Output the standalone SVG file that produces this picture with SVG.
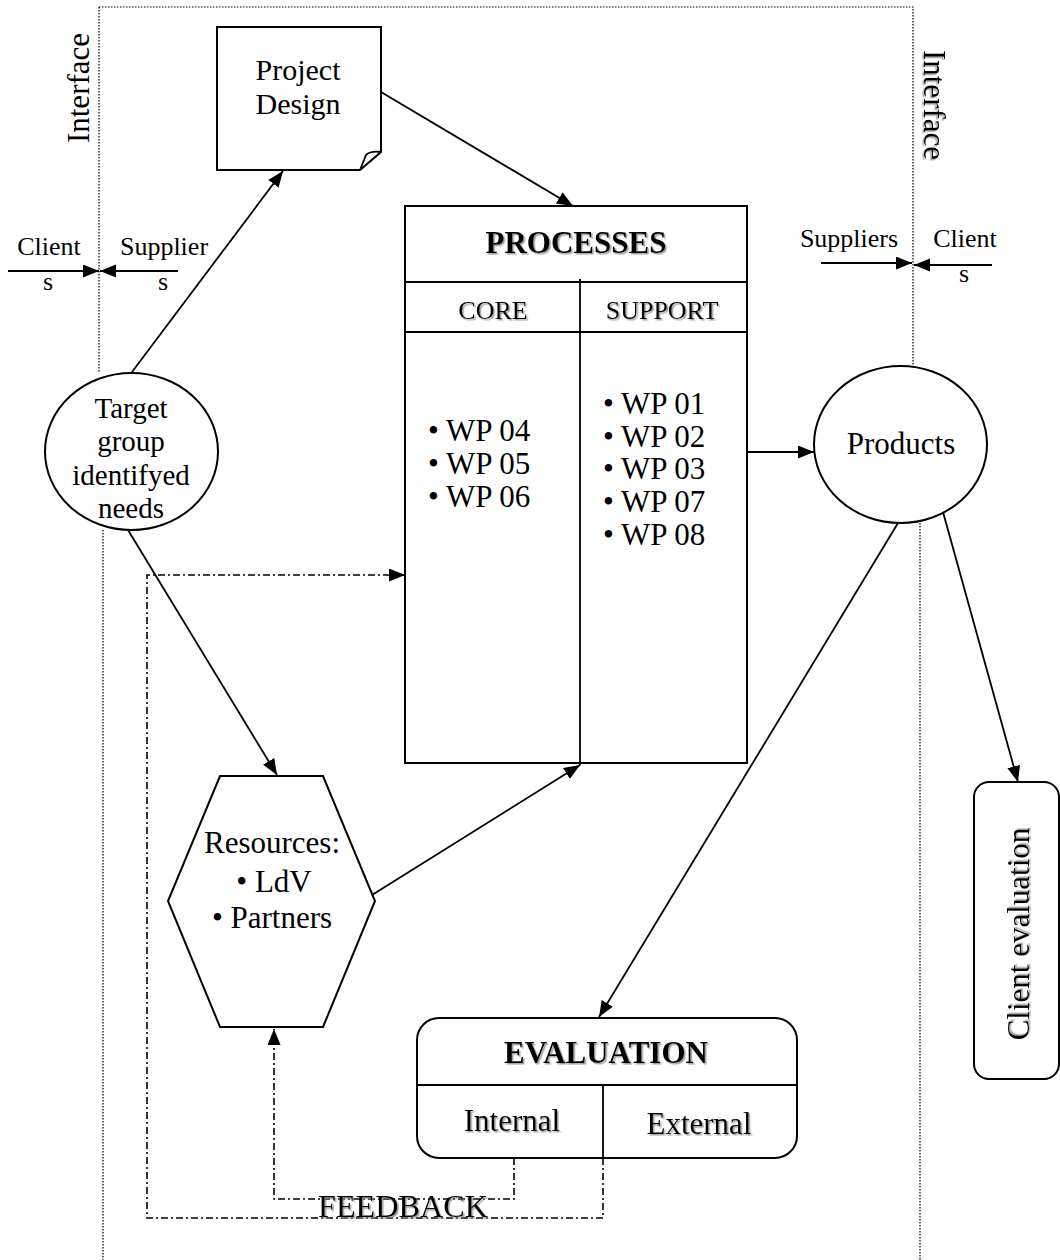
<svg xmlns="http://www.w3.org/2000/svg" width="1060" height="1260" viewBox="0 0 1060 1260">
<style>
text{font-family:"Liberation Serif","Times New Roman",serif;fill:#000}
.t26{font-size:26px}
.t29{font-size:29px}
.t30{font-size:30px}
.t31{font-size:31px}
.b31{font-size:31px;font-weight:bold}
.mid{text-anchor:middle}
.sh{filter:url(#shadow)}
.shape{fill:#fff;stroke:#000;stroke-width:2}
.line{fill:none;stroke:#000;stroke-width:1.8}
.dot{fill:none;stroke:#000;stroke-width:1.2;stroke-dasharray:1.5,1.5}
.dd{fill:none;stroke:#000;stroke-width:1.6;stroke-dasharray:7,3,2,3}
</style>
<defs>
<marker id="ah" markerUnits="userSpaceOnUse" markerWidth="17" markerHeight="14" refX="16" refY="6.5" orient="auto">
<path d="M0,0 L16,6.5 L0,13 z" fill="#000"/>
</marker>
<filter id="shadow" x="-5%" y="-20%" width="115%" height="150%">
<feDropShadow dx="1.5" dy="1.5" stdDeviation="0.6" flood-color="#888" flood-opacity="0.8"/>
</filter>
</defs>
<rect width="1060" height="1260" fill="#fff"/>

<g id="frame">
<path class="dot" d="M99,7 H913 V366"/>
<path class="dot" d="M99,7 V373"/>
<path class="dot" d="M103,530 V1260"/>
<path class="dot" d="M920,523 V1260"/>
<text class="t31 mid" transform="translate(89,88) rotate(-90)">Interface</text>
<text class="t31 mid sh" transform="translate(924,105) rotate(90)">Interface</text>
</g>

<g id="interface-labels">
<text class="t26 mid" x="49" y="255">Client</text>
<text class="t26 mid" x="48" y="290">s</text>
<text class="t26 mid" x="164" y="255">Supplier</text>
<text class="t26 mid" x="163" y="290">s</text>
<text class="t26 mid" x="849" y="247">Suppliers</text>
<text class="t26 mid" x="965" y="247">Client</text>
<text class="t26 mid" x="964" y="282">s</text>
</g>

<g id="project-design">
<path class="shape" d="M217,27 H381 V152 L360,170 H217 Z"/>
<path class="line" d="M381,152 C374,151 369,152 366,155 L360,170" stroke-width="1.5"/>
<text class="t30 mid" x="298" y="80">Project</text>
<text class="t30 mid" x="298" y="114">Design</text>
</g>

<g id="processes">
<rect class="shape" x="405" y="206" width="342" height="557"/>
<line class="line" x1="405" y1="282" x2="747" y2="282" stroke-width="2"/>
<line class="line" x1="405" y1="332" x2="747" y2="332" stroke-width="2"/>
<line class="line" x1="580" y1="279" x2="580" y2="765" stroke-width="2"/>
<text class="b31 mid sh" x="576" y="253">PROCESSES</text>
<text class="t26 mid sh" x="493" y="319">CORE</text>
<text class="t26 mid sh" x="662" y="319">SUPPORT</text>
<text class="t31" x="428" y="441">• WP 04</text>
<text class="t31" x="428" y="474">• WP 05</text>
<text class="t31" x="428" y="507">• WP 06</text>
<text class="t31" x="603" y="414">• WP 01</text>
<text class="t31" x="603" y="447">• WP 02</text>
<text class="t31" x="603" y="479">• WP 03</text>
<text class="t31" x="603" y="512">• WP 07</text>
<text class="t31" x="603" y="545">• WP 08</text>
</g>

<g id="target-group">
<ellipse class="shape" cx="131.5" cy="451.5" rx="86.5" ry="78.5"/>
<text class="t29 mid" x="131" y="418">Target</text>
<text class="t29 mid" x="131" y="451">group</text>
<text class="t29 mid" x="131" y="485">identifyed</text>
<text class="t29 mid" x="131" y="518">needs</text>
</g>

<g id="products">
<ellipse class="shape" cx="900.5" cy="444.5" rx="86.5" ry="78.5"/>
<text class="t31 mid" x="901" y="454">Products</text>
</g>

<g id="resources">
<polygon class="shape" points="220,776 323,776 375,901 323,1027 220,1027 168,901"/>
<text class="t31 mid" x="272" y="853">Resources:</text>
<text class="t31 mid" x="274" y="892">• LdV</text>
<text class="t31 mid" x="272" y="928">• Partners</text>
</g>

<g id="evaluation">
<rect class="shape" x="417" y="1018" width="380" height="140" rx="22"/>
<line class="line" x1="417" y1="1085" x2="797" y2="1085" stroke-width="2"/>
<line class="line" x1="603" y1="1085" x2="603" y2="1158" stroke-width="2"/>
<text class="b31 mid sh" x="606" y="1063">EVALUATION</text>
<text class="t31 mid sh" x="512" y="1131">Internal</text>
<text class="t31 mid sh" x="699" y="1134">External</text>
</g>

<g id="client-evaluation">
<rect class="shape" x="974" y="782" width="85" height="297" rx="15"/>
<text class="t31 mid sh" transform="translate(1029,934) rotate(-90)">Client evaluation</text>
</g>

<g id="connectors">
<line class="line" x1="8" y1="271" x2="99" y2="271" marker-end="url(#ah)"/>
<line class="line" x1="178" y1="271" x2="100" y2="271" marker-end="url(#ah)"/>
<line class="line" x1="821" y1="263" x2="912" y2="263" marker-end="url(#ah)"/>
<line class="line" x1="992" y1="265" x2="914" y2="265" marker-end="url(#ah)"/>
<line class="line" x1="132" y1="372" x2="283" y2="171" marker-end="url(#ah)"/>
<line class="line" x1="381" y1="92" x2="573" y2="206" marker-end="url(#ah)"/>
<line class="line" x1="128" y1="530" x2="277" y2="775" marker-end="url(#ah)"/>
<line class="line" x1="372" y1="895" x2="580" y2="765" marker-end="url(#ah)"/>
<line class="line" x1="747" y1="452" x2="814" y2="452" marker-end="url(#ah)"/>
<line class="line" x1="898" y1="523" x2="599" y2="1017" marker-end="url(#ah)"/>
<line class="line" x1="943" y1="512" x2="1018" y2="782" marker-end="url(#ah)"/>
<path class="dd" d="M514,1158 V1199 H274 V1029" marker-end="url(#ah)"/>
<path class="dd" d="M603,1158 V1218 H147 V575 H405" marker-end="url(#ah)"/>
<text class="t31 mid sh" x="403" y="1217" textLength="170" lengthAdjust="spacingAndGlyphs">FEEDBACK</text>
</g>
</svg>
